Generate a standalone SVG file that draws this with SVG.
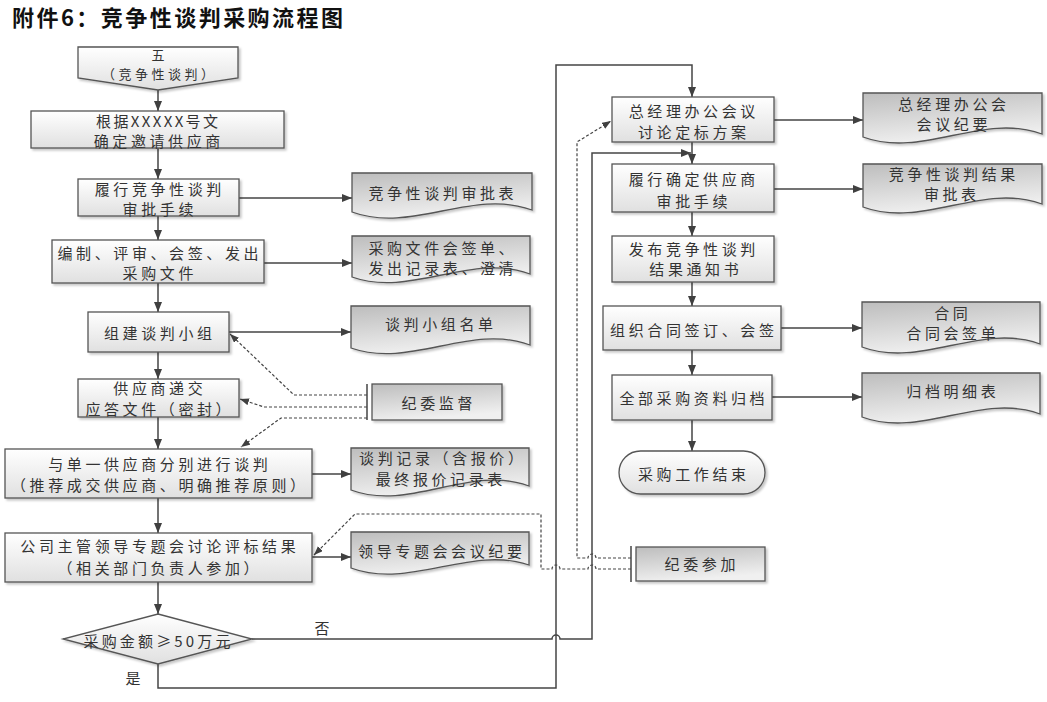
<svg xmlns="http://www.w3.org/2000/svg" width="1047" height="702" viewBox="0 0 1047 702">
<defs>
<linearGradient id="gProc" x1="0" y1="0" x2="0" y2="1"><stop offset="0" stop-color="#ffffff"/><stop offset="1" stop-color="#e0e0e0"/></linearGradient>
<linearGradient id="gDoc" x1="0" y1="0" x2="0.3" y2="1"><stop offset="0" stop-color="#bdbdbd"/><stop offset="1" stop-color="#f0f0f0"/></linearGradient>
<filter id="sh" x="-5%" y="-10%" width="115%" height="130%"><feDropShadow dx="2" dy="2" stdDeviation="1" flood-color="#000" flood-opacity="0.22"/></filter>
<marker id="ar" markerUnits="userSpaceOnUse" markerWidth="11" markerHeight="9" refX="10" refY="4" orient="auto"><path d="M0,0 L10,4 L0,8 Z" fill="#404040"/></marker>
<marker id="ard" markerUnits="userSpaceOnUse" markerWidth="10" markerHeight="8" refX="9" refY="3.5" orient="auto"><path d="M0,0 L9,3.5 L0,7 Z" fill="#404040"/></marker>
<style>
.p{fill:url(#gProc);stroke:#555;stroke-width:1.3;filter:url(#sh)}
.d{fill:url(#gDoc);stroke:#555;stroke-width:1.3;filter:url(#sh)}
.t{font-family:"Noto Sans CJK SC","Liberation Sans",sans-serif;font-size:15px;fill:#333;text-anchor:middle;dominant-baseline:central}
.s{font-size:13px}
.la{fill:none;stroke:#454545;stroke-width:1.5;marker-end:url(#ar)}
.dla{fill:none;stroke:#444;stroke-width:1.2;stroke-dasharray:3 2;marker-end:url(#ard)}
.bar{stroke:#444;stroke-width:1.5}
</style>
</defs>
<rect width="1047" height="702" fill="#fff"/>
<text id="title" x="12" y="16" font-family="'Noto Sans CJK SC','Liberation Sans',sans-serif" font-size="22" font-weight="bold" fill="#111" dominant-baseline="central" textLength="331" lengthAdjust="spacing">附件6：竞争性谈判采购流程图</text>

<g id="connectors">
<path class="la" d="M158,90 V111"/>
<path class="la" d="M158,148 V179"/>
<path class="la" d="M239,198 H352"/>
<path class="la" d="M158,216 V240"/>
<path class="la" d="M264,263 H352"/>
<path class="la" d="M158,283 V312"/>
<path class="la" d="M229,332 H351"/>
<path class="la" d="M158,352 V379"/>
<path class="la" d="M158,417 V449"/>
<path class="la" d="M312,474 H351"/>
<path class="la" d="M158,498 V533"/>
<path class="la" d="M312,557 H351"/>
<path class="la" d="M158,582 V614"/>
<path class="la" d="M252,639 H552 a4,4 0 0 1 8,0 H592 V153 H691"/>
<path class="la" d="M158,664 V688 H556 V65 H692 V97"/>
<path class="la" d="M692,142 V164"/>
<path class="la" d="M774,120 H863"/>
<path class="la" d="M774,189 H863"/>
<path class="la" d="M692,212 V236"/>
<path class="la" d="M692,282 V306"/>
<path class="la" d="M781,328 H862"/>
<path class="la" d="M692,350 V375"/>
<path class="la" d="M772,397 H862"/>
<path class="la" d="M692,420 V451"/>
<path class="dla" d="M367,395 H294 L230,334"/>
<path class="dla" d="M367,407 H264 L240,399"/>
<path class="dla" d="M367,418 H281 L241,447"/>
<path class="dla" d="M631,569 H596 a4,4 0 0 0 -8,0 H560 a4,4 0 0 0 -8,0 H541 V514 H355 L314,555"/>
<path class="dla" d="M631,558 H596 a4,4 0 0 0 -8,0 H577 V142 L611,121"/>
<line class="bar" x1="367" y1="384" x2="367" y2="420"/>
<line class="bar" x1="631" y1="546" x2="631" y2="582"/>
<text class="t" x="322" y="627">否</text>
<text class="t" x="133" y="677">是</text>
</g>

<g id="n-start">
<path class="p" d="M78,47 H238 V78 L158,90 L78,78 Z"/>
<text class="t s" x="158" y="54">五</text>
<text class="t s" x="158" y="73" textLength="112" lengthAdjust="spacing">（竞争性谈判）</text>
</g>
<g id="n-invite">
<rect class="p" x="31" y="111" width="253" height="37"/>
<text class="t" x="157" y="120" textLength="122" lengthAdjust="spacing">根据XXXXX号文</text>
<text class="t" x="157" y="140" textLength="126.6" lengthAdjust="spacing">确定邀请供应商</text>
</g>
<g id="n-approve">
<rect class="p" x="78" y="179" width="161" height="37"/>
<text class="t" x="158" y="188" textLength="126.6" lengthAdjust="spacing">履行竞争性谈判</text>
<text class="t" x="158" y="208" textLength="70.8" lengthAdjust="spacing">审批手续</text>
</g>
<g id="d-approve">
<path class="d" d="M352,173 H532 V210 C472,188 412,234 352,212 Z"/>
<text class="t" x="441" y="192" textLength="145.2" lengthAdjust="spacing">竞争性谈判审批表</text>
</g>
<g id="n-docs">
<rect class="p" x="52" y="240" width="212" height="43"/>
<text class="t" x="158" y="252" textLength="201" lengthAdjust="spacing">编制、评审、会签、发出</text>
<text class="t" x="158" y="272" textLength="70.8" lengthAdjust="spacing">采购文件</text>
</g>
<g id="d-docs">
<path class="d" d="M352,236 H530 V274 C471,252 411,298 352,277 Z"/>
<text class="t" x="441" y="247" textLength="145.2" lengthAdjust="spacing">采购文件会签单、</text>
<text class="t" x="441" y="267" textLength="145.2" lengthAdjust="spacing">发出记录表、澄清</text>
</g>
<g id="n-team">
<rect class="p" x="88" y="312" width="141" height="40"/>
<text class="t" x="158" y="332" textLength="108" lengthAdjust="spacing">组建谈判小组</text>
</g>
<g id="d-team">
<path class="d" d="M351,306 H530 V345 C470,323 411,369 351,348 Z"/>
<text class="t" x="439" y="323" textLength="108" lengthAdjust="spacing">谈判小组名单</text>
</g>
<g id="n-submit">
<rect class="p" x="78" y="379" width="161" height="38"/>
<text class="t" x="158" y="387" textLength="89.4" lengthAdjust="spacing">供应商递交</text>
<text class="t" x="158" y="408" textLength="145.2" lengthAdjust="spacing">应答文件（密封）</text>
</g>
<g id="n-supervise">
<rect class="d" x="372" y="384" width="130" height="36"/>
<text class="t" x="437" y="402" textLength="70.8" lengthAdjust="spacing">纪委监督</text>
</g>
<g id="n-negotiate">
<rect class="p" x="5" y="449" width="307" height="49"/>
<text class="t" x="158" y="463" textLength="219.6" lengthAdjust="spacing">与单一供应商分别进行谈判</text>
<text class="t" x="158" y="484" textLength="294" lengthAdjust="spacing">（推荐成交供应商、明确推荐原则）</text>
</g>
<g id="d-negotiate">
<path class="d" d="M351,448 H529 V486 C470,464 410,512 351,490 Z"/>
<text class="t" x="441" y="457" textLength="163.8" lengthAdjust="spacing">谈判记录（含报价）</text>
<text class="t" x="439" y="478" textLength="126.6" lengthAdjust="spacing">最终报价记录表</text>
</g>
<g id="n-leader">
<rect class="p" x="5" y="533" width="307" height="49"/>
<text class="t" x="158" y="545" textLength="275.4" lengthAdjust="spacing">公司主管领导专题会讨论评标结果</text>
<text class="t" x="158" y="567" textLength="201" lengthAdjust="spacing">（相关部门负责人参加）</text>
</g>
<g id="d-leader">
<path class="d" d="M351,532 H529 V565 C470,545 410,590 351,568 Z"/>
<text class="t" x="440" y="550" textLength="163.8" lengthAdjust="spacing">领导专题会会议纪要</text>
</g>
<g id="n-decision">
<path class="p" d="M158,614 L252,639 L158,664 L63,639 Z"/>
<text class="t" x="157" y="640" textLength="147" lengthAdjust="spacing">采购金额≥50万元</text>
</g>

<g id="n-gm">
<rect class="p" x="612" y="97" width="162" height="45"/>
<text class="t" x="692" y="110" textLength="126.6" lengthAdjust="spacing">总经理办公会议</text>
<text class="t" x="692" y="131" textLength="108" lengthAdjust="spacing">讨论定标方案</text>
</g>
<g id="d-gm">
<path class="d" d="M863,93 H1042 V134 C982,112 923,159 863,137 Z"/>
<text class="t" x="952" y="103" textLength="108" lengthAdjust="spacing">总经理办公会</text>
<text class="t" x="952" y="123" textLength="70.8" lengthAdjust="spacing">会议纪要</text>
</g>
<g id="n-confirm">
<rect class="p" x="612" y="164" width="162" height="48"/>
<text class="t" x="692" y="178" textLength="126.6" lengthAdjust="spacing">履行确定供应商</text>
<text class="t" x="692" y="200" textLength="70.8" lengthAdjust="spacing">审批手续</text>
</g>
<g id="d-confirm">
<path class="d" d="M863,164 H1042 V204 C982,182 923,229 863,207 Z"/>
<text class="t" x="952" y="173" textLength="126.6" lengthAdjust="spacing">竞争性谈判结果</text>
<text class="t" x="950" y="193" textLength="52.2" lengthAdjust="spacing">审批表</text>
</g>
<g id="n-notice">
<rect class="p" x="612" y="236" width="162" height="46"/>
<text class="t" x="692" y="248" textLength="126.6" lengthAdjust="spacing">发布竞争性谈判</text>
<text class="t" x="694" y="268" textLength="89.4" lengthAdjust="spacing">结果通知书</text>
</g>
<g id="n-contract">
<rect class="p" x="603" y="306" width="178" height="44"/>
<text class="t" x="692" y="329" textLength="163.8" lengthAdjust="spacing">组织合同签订、会签</text>
</g>
<g id="d-contract">
<path class="d" d="M862,302 H1040 V344 C981,322 921,369 862,347 Z"/>
<text class="t" x="951" y="312" textLength="33.6" lengthAdjust="spacing">合同</text>
<text class="t" x="951" y="332" textLength="89.4" lengthAdjust="spacing">合同会签单</text>
</g>
<g id="n-archive">
<rect class="p" x="612" y="375" width="160" height="45"/>
<text class="t" x="692" y="397" textLength="145.2" lengthAdjust="spacing">全部采购资料归档</text>
</g>
<g id="d-archive">
<path class="d" d="M862,373 H1040 V414 C981,392 921,439 862,417 Z"/>
<text class="t" x="951" y="390" textLength="89.4" lengthAdjust="spacing">归档明细表</text>
</g>
<g id="n-end">
<rect class="p" x="619" y="451" width="146" height="43" rx="21.5" ry="21.5"/>
<text class="t" x="692" y="473" textLength="108" lengthAdjust="spacing">采购工作结束</text>
</g>
<g id="n-attend">
<rect class="d" x="636" y="547" width="129" height="34"/>
<text class="t" x="700" y="563" textLength="70.8" lengthAdjust="spacing">纪委参加</text>
</g>
</svg>
